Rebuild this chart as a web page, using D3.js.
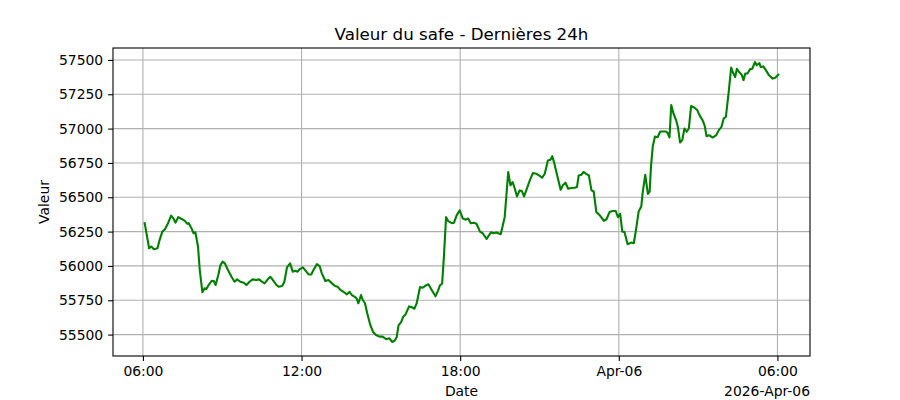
<!DOCTYPE html>
<html>
<head>
<meta charset="utf-8">
<script src="https://cdn.jsdelivr.net/npm/d3@7"></script>
<style>
  body { margin: 0; background: #fff; }
  svg { display: block; font-family: "DejaVu Sans", sans-serif; }
</style>
</head>
<body>
<svg id="chart" width="900" height="400"></svg>
<script>
// heure de chaque relevé (le jour change après minuit)
const times = [
  "06:04","06:14","06:19","06:25","06:33","06:38","06:44","06:50","06:57","07:04",
  "07:09","07:14","07:20","07:28","07:35","07:41","07:44","07:50","07:55","07:59",
  "08:05","08:09","08:15","08:20","08:24","08:29","08:36","08:41","08:45","08:51",
  "08:56","09:01","09:06","09:13","09:21","09:28","09:34","09:41","09:49","09:55",
  "10:02","10:09","10:17","10:24","10:30","10:36","10:42","10:49","10:55","11:03",
  "11:08","11:16","11:21","11:27","11:34","11:40","11:46","11:51","11:55","12:03",
  "12:08","12:16","12:22","12:27","12:35","12:41","12:46","12:54","13:01","13:09",
  "13:16","13:22","13:28","13:35","13:43","13:49","13:54","14:00","14:05","14:09",
  "14:15","14:19","14:24","14:29","14:36","14:42","14:49","14:57","15:04","15:12",
  "15:19","15:26","15:32","15:36","15:40","15:46","15:51","15:56","16:04","16:10",
  "16:16","16:21","16:29","16:35","16:42","16:48","16:55","17:04","17:10","17:14",
  "17:19","17:23","17:28","17:33","17:41","17:46","17:52","17:59","18:06","18:13",
  "18:18","18:24","18:31","18:37","18:45","18:51","19:00","19:10","19:15","19:22",
  "19:32","19:41","19:49","19:54","19:59","20:04","20:09","20:15","20:20","20:25",
  "20:30","20:38","20:45","20:53","20:59","21:06","21:12","21:19","21:25","21:29",
  "21:34","21:42","21:48","21:53","21:59","22:05","22:12","22:20","22:25","22:29",
  "22:35","22:40","22:46","22:52","22:58","23:03","23:09","23:15","23:20","23:26",
  "23:32","23:39","23:46","23:53","23:58","00:03","00:08","00:13","00:20","00:28",
  "00:34","00:39","00:45","00:51","00:54","01:00","01:06","01:10","01:13","01:17",
  "01:22","01:28","01:34","01:41","01:47","01:51","01:55","01:59","02:04","02:10",
  "02:14","02:19","02:24","02:29","02:34","02:39","02:44","02:51","02:58","03:03",
  "03:10","03:15","03:19","03:25","03:33","03:41","03:47","03:53","03:58","04:03",
  "04:09","04:15","04:20","04:24","04:28","04:33","04:39","04:43","04:47","04:52",
  "04:58","05:03","05:09","05:13","05:19","05:22","05:28","05:34","05:41","05:49",
  "05:55","06:02"
];
const values = [
  56311,56129,56141,56122,56129,56190,56250,56267,56311,56366,
  56347,56315,56355,56342,56328,56306,56311,56275,56238,56245,
  56141,55970,55808,55837,55832,55861,55892,55890,55861,55934,
  56006,56031,56019,55970,55921,55885,55902,55885,55878,55861,
  55885,55902,55897,55902,55885,55873,55897,55921,55897,55861,
  55849,55854,55885,55990,56019,55958,55965,55958,55975,55990,
  55970,55938,55938,55970,56013,55999,55946,55890,55897,55873,
  55854,55849,55825,55812,55793,55812,55788,55776,55764,55728,
  55788,55752,55728,55655,55570,55521,55497,55485,55485,55466,
  55473,55446,55458,55482,55567,55591,55632,55647,55705,55700,
  55688,55725,55846,55841,55858,55866,55827,55779,55822,55858,
  55870,56064,56355,56326,56311,56315,56368,56405,56345,56337,
  56345,56311,56315,56307,56250,56238,56197,56245,56238,56243,
  56231,56355,56684,56587,56611,56562,56506,56550,56545,56506,
  56550,56623,56676,56671,56659,56642,56671,56768,56773,56799,
  56743,56634,56554,56587,56606,56562,56567,56569,56574,56659,
  56664,56684,56671,56659,56550,56542,56392,56375,56355,56328,
  56340,56392,56400,56400,56355,56380,56250,56246,56158,56170,
  56165,56262,56396,56432,56530,56663,56524,56541,56723,56869,
  56942,56937,56979,56979,56979,56967,56935,57171,57110,57062,
  57013,56899,56916,57001,56977,57001,57164,57154,57135,57098,
  57062,57020,56945,56952,56935,56952,56989,57013,57074,57086,
  57255,57444,57401,57375,57436,57412,57391,57353,57401,57401,
  57433,57436,57485,57461,57477,57448,57453,57424,57388,57364,
  57371,57393
];
const yTicks = [55500, 55750, 56000, 56250, 56500, 56750, 57000, 57250, 57500];
const xTickTimes = ["2026-04-05 06:00", "2026-04-05 12:00", "2026-04-05 18:00", "2026-04-06 00:00", "2026-04-06 06:00"];
const xTickLabels = ["06:00", "12:00", "18:00", "Apr-06", "06:00"];
const startDay = "2026-04-05";
const title = "Valeur du safe - Dernières 24h";
const offsetLabel = "2026-Apr-06";

// construit les dates complètes
const parse = d3.timeParse("%Y-%m-%d %H:%M");
let day = parse(startDay + " 00:00");
let prev = -1;
const data = times.map((t, i) => {
  const [h, m] = t.split(":").map(Number);
  const mins = h * 60 + m;
  if (mins < prev) day = d3.timeDay.offset(day, 1);
  prev = mins;
  return {date: new Date(day.getTime() + mins * 60000), value: values[i]};
});

const margin = {top: 48, right: 90, bottom: 44, left: 113};
const width = 900, height = 400;
const svg = d3.select("#chart");

// marges de 5% comme matplotlib
const tExt = d3.extent(data, d => d.date);
const tPad = (tExt[1] - tExt[0]) * 0.05;
const vExt = d3.extent(data, d => d.value);
const vPad = (vExt[1] - vExt[0]) * 0.05;

const x = d3.scaleTime()
  .domain([new Date(+tExt[0] - tPad), new Date(+tExt[1] + tPad)])
  .range([margin.left, width - margin.right]);
const y = d3.scaleLinear()
  .domain([vExt[0] - vPad, vExt[1] + vPad])
  .range([height - margin.bottom, margin.top]);

const tickDates = xTickTimes.map(parse);

// grille
svg.append("g")
  .selectAll("line")
  .data(tickDates)
  .join("line")
  .attr("x1", d => x(d)).attr("x2", d => x(d))
  .attr("y1", margin.top).attr("y2", height - margin.bottom)
  .attr("stroke", "#b0b0b0").attr("stroke-width", 1.1);
svg.append("g")
  .selectAll("line")
  .data(yTicks)
  .join("line")
  .attr("x1", margin.left).attr("x2", width - margin.right)
  .attr("y1", d => y(d)).attr("y2", d => y(d))
  .attr("stroke", "#b0b0b0").attr("stroke-width", 1.1);

// courbe
const line = d3.line()
  .x(d => x(d.date))
  .y(d => y(d.value));
svg.append("path")
  .datum(data)
  .attr("fill", "none")
  .attr("stroke", "#008000")
  .attr("stroke-width", 2.1)
  .attr("stroke-linejoin", "round")
  .attr("stroke-linecap", "square")
  .attr("d", line);

// axes
const xAxis = d3.axisBottom(x)
  .tickValues(tickDates)
  .tickFormat((d, i) => xTickLabels[i])
  .tickSize(4.9).tickPadding(4.9);
const yAxis = d3.axisLeft(y)
  .tickValues(yTicks)
  .tickFormat(d3.format("d"))
  .tickSize(4.9).tickPadding(4.9);

const gx = svg.append("g")
  .attr("transform", `translate(0,${height - margin.bottom})`)
  .call(xAxis);
const gy = svg.append("g")
  .attr("transform", `translate(${margin.left},0)`)
  .call(yAxis);
[gx, gy].forEach(g => {
  g.select(".domain").remove();
  g.selectAll(".tick line").attr("stroke", "#000").attr("stroke-width", 1.1);
  g.selectAll(".tick text")
    .attr("fill", "#000")
    .attr("font-family", "DejaVu Sans")
    .attr("font-size", 13.9);
});

// cadre
svg.append("rect")
  .attr("x", margin.left).attr("y", margin.top)
  .attr("width", width - margin.right - margin.left)
  .attr("height", height - margin.bottom - margin.top)
  .attr("fill", "none").attr("stroke", "#000").attr("stroke-width", 1.1);

// textes
svg.append("text")
  .attr("x", (margin.left + width - margin.right) / 2)
  .attr("y", 40)
  .attr("text-anchor", "middle")
  .attr("font-size", 16.7)
  .text(title);
svg.append("text")
  .attr("x", (margin.left + width - margin.right) / 2)
  .attr("y", 396)
  .attr("text-anchor", "middle")
  .attr("font-size", 13.9)
  .text("Date");
svg.append("text")
  .attr("transform", `translate(49,${(margin.top + height - margin.bottom) / 2}) rotate(-90)`)
  .attr("text-anchor", "middle")
  .attr("font-size", 13.9)
  .text("Valeur");
svg.append("text")
  .attr("x", width - margin.right)
  .attr("y", 396)
  .attr("text-anchor", "end")
  .attr("font-size", 13.9)
  .text(offsetLabel);
</script>
</body>
</html>
